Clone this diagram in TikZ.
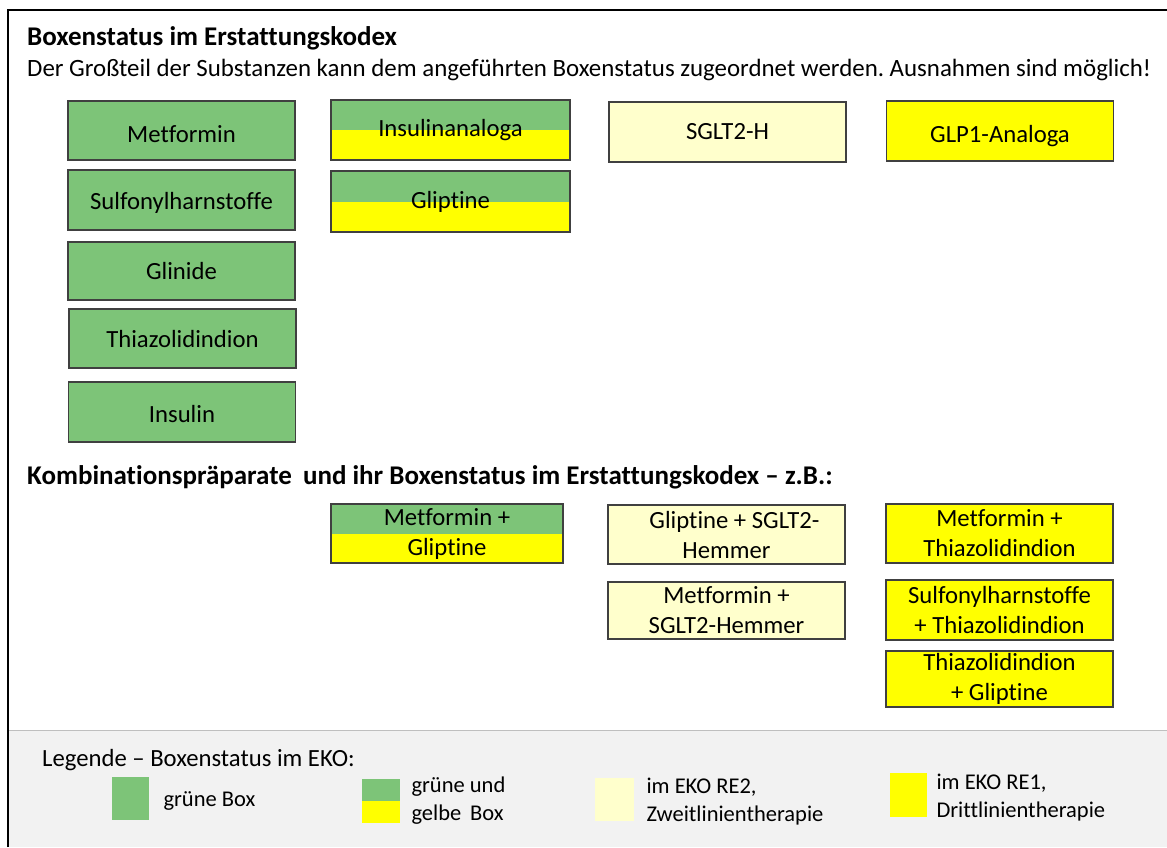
\documentclass[tikz,border=0pt]{standalone}
\usepackage{fontspec}
\setmainfont[Ligatures=NoCommon]{Carlito}
\usepackage{tikz}
\usetikzlibrary{calc}
\definecolor{gruen}{RGB}{125,196,120}
\definecolor{gelb}{RGB}{255,255,0}
\definecolor{hellgelb}{RGB}{255,255,204}
\definecolor{rahmen}{RGB}{64,64,64}
\definecolor{legendegrau}{RGB}{242,242,242}
\newcommand{\tiefer}[2]{\raisebox{-#1}[\height][\depth]{#2}}
\frenchspacing

\begin{document}
\begin{tikzpicture}[x=1pt,y=-1pt,
    box/.style={draw=rahmen,line width=1.3pt,inner sep=0pt,align=center,
      font=\fontsize{24.7}{30}\selectfont,minimum width=227pt,minimum height=59pt},
    gruenbox/.style={box,fill=gruen},
    gelbbox/.style={box,fill=gelb},
    hellbox/.style={box,fill=hellgelb},
    halbbox/.style={box,fill=gruen,path picture={
      \fill[gelb] (path picture bounding box.west) rectangle (path picture bounding box.south east);}},
    legtext/.style={anchor=west,align=left,font=\fontsize{22.5}{28}\selectfont}]
      \useasboundingbox (0,0) rectangle (1167,847);
      \fill[legendegrau] (9,730) rectangle (1167,847);
      \draw[black!25,line width=1pt] (9,730) -- (1167,730);
      \draw[line width=2pt] (8,847) -- (8,10) -- (1167,10);

      \node[anchor=base west,inner sep=0pt,font=\fontsize{27}{30}\selectfont\bfseries] (titel) at (27,45) {Boxenstatus im Erstattungskodex};
      \node[anchor=base west,inner sep=0pt,font=\fontsize{24.9}{30}\selectfont] (hinweis) at (27,76) {Der Großteil der Substanzen kann dem angeführten Boxenstatus zugeordnet werden. Ausnahmen sind möglich!};

      \node[gruenbox] (met) at (181.5,130.5) {\tiefer{4pt}{Metformin}};
      \node[gruenbox,minimum height=60pt] (sulf) at (181.5,200) {\tiefer{3pt}{Sulfonylharnstoffe}};
      \node[gruenbox,minimum height=58pt] (glin) at (181.5,271) {Glinide};
      \node[gruenbox] (thia) at (182.5,338.5) {\tiefer{1pt}{Thiazolidindion}};
      \node[gruenbox,minimum height=60pt] (ins) at (182,412) {\tiefer{2pt}{Insulin}};

      \node[halbbox,minimum width=239pt,minimum height=60pt] (insana) at (450.5,130) {Insulinanaloga};
      \node[halbbox,minimum width=239pt,minimum height=61pt] (glip) at (450.5,201.5) {Gliptine};
      \node[hellbox,minimum width=237pt,minimum height=60pt] (sglt) at (727.5,132) {SGLT2-H};
      \node[gelbbox,minimum height=60pt] (glp) at (1000,131) {\tiefer{5pt}{GLP1-Analoga}};

      \node[anchor=base west,inner sep=0pt,font=\fontsize{27}{30}\selectfont\bfseries] (kombi) at (27,484) {Kombinationspräparate\hspace{5pt} und ihr Boxenstatus im Erstattungskodex -- z.B.:};

      \node[halbbox,minimum width=232pt] (metglip) at (447,533.5) {Metformin +\\Gliptine};
      \node[hellbox,minimum width=237pt] (glipsglt) at (726.5,534.5) {\hspace*{16pt}Gliptine + SGLT2-\\Hemmer};
      \node[hellbox,minimum width=237pt,minimum height=57pt] (metsglt) at (726.5,610.5) {Metformin +\\SGLT2-Hemmer};
      \node[gelbbox] (metthia) at (999.5,533.5) {Metformin +\\Thiazolidindion};
      \node[gelbbox,minimum height=60pt] (sulfthia) at (999.5,610) {Sulfonylharnstoffe\\+ Thiazolidindion};
      \node[gelbbox,minimum height=56pt] (thiaglip) at (999.5,679) {Thiazolidindion\\+ Gliptine};

      \node[anchor=base west,inner sep=0pt,font=\fontsize{24.7}{30}\selectfont] (legende) at (42,766) {Legende -- Boxenstatus im EKO:};
      \path[fill=gruen] (112,777) rectangle (149,820) node[legtext] (leg1) at (160,801) {grüne Box};
      \path[fill=gruen] (362,779) rectangle (400,801);
      \path[fill=gelb] (362,801) rectangle (400,823) node[legtext] (leg2) at (408,801) {grüne und\\gelbe\, Box};
      \path[fill=hellgelb] (595,778) rectangle (634,821) node[legtext] (leg3) at (643,802) {im EKO RE2,\\Zweitlinientherapie};
      \path[fill=gelb] (890,773) rectangle (927,817) node[legtext] (leg4) at (933,798) {im EKO RE1,\\Drittlinientherapie};
    \end{tikzpicture}
\end{document}
